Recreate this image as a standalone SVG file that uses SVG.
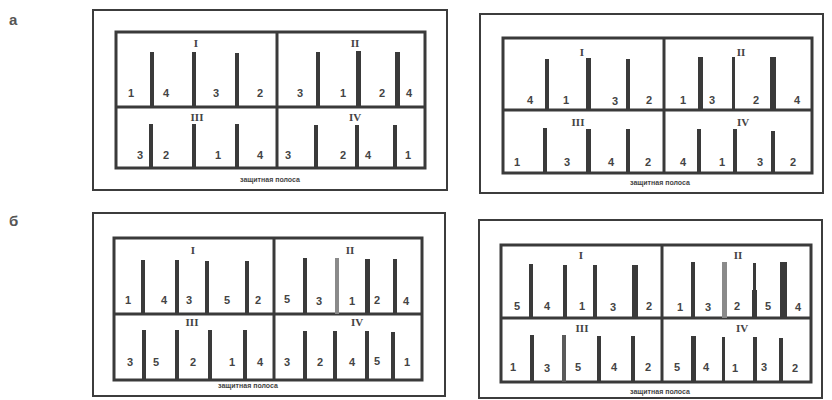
<svg xmlns="http://www.w3.org/2000/svg" width="832" height="400" viewBox="0 0 832 400">
<style>
.outer{fill:none;stroke:#3c3c3c;stroke-width:2}
.inner{fill:none;stroke:#3a3a3a;stroke-width:3}
.div{stroke:#3a3a3a;stroke-width:3}
.bar{fill:#3a3a3a}
.barg{fill:#8a8a8a}
.bard{fill:#5a5a5a}
.n{font-family:"Liberation Sans",Arial,sans-serif;font-size:11px;font-weight:bold;fill:#444;text-anchor:middle}
.r{font-family:"Liberation Serif",serif;font-size:11px;font-weight:bold;fill:#444;text-anchor:middle}
.cap{font-family:"Liberation Sans",Arial,sans-serif;font-size:7px;font-weight:bold;fill:#444;text-anchor:middle}
.lt{font-family:"Liberation Sans",Arial,sans-serif;font-size:15px;font-weight:bold;fill:#555}
</style>
<rect width="832" height="400" fill="#fff"/>
<text class="lt" x="9" y="25">а</text>
<text class="lt" x="9" y="226">б</text>

<g id="panel-a-left">
<rect class="outer" x="93" y="10" width="354" height="180"/>
<rect class="inner" x="116" y="32" width="309" height="136"/>
<line class="div" x1="116" y1="107" x2="425" y2="107"/>
<line class="div" x1="277" y1="32" x2="277" y2="168"/>
<rect class="bar" x="150" y="52" width="4" height="55"/>
<rect class="bar" x="192" y="52" width="4" height="55"/>
<rect class="bar" x="235" y="53" width="4" height="54"/>
<rect class="bar" x="316" y="52" width="4" height="55"/>
<rect class="bar" x="356" y="51" width="5" height="56"/>
<rect class="bar" x="395" y="52" width="5" height="55"/>
<rect class="bar" x="149" y="124" width="4" height="44"/>
<rect class="bar" x="192" y="124" width="4" height="44"/>
<rect class="bar" x="235" y="124" width="4" height="44"/>
<rect class="bar" x="314" y="125" width="4" height="43"/>
<rect class="bar" x="355" y="125" width="4" height="43"/>
<rect class="bar" x="393" y="125" width="4" height="43"/>
<text class="r" x="196" y="47">I</text>
<text class="r" x="355" y="47">II</text>
<text class="r" x="197" y="121">III</text>
<text class="r" x="355" y="121">IV</text>
<text class="n" x="131" y="97">1</text>
<text class="n" x="166" y="97">4</text>
<text class="n" x="216" y="97">3</text>
<text class="n" x="260" y="97">2</text>
<text class="n" x="300" y="97">3</text>
<text class="n" x="343" y="97">1</text>
<text class="n" x="382" y="97">2</text>
<text class="n" x="409" y="97">4</text>
<text class="n" x="140" y="159">3</text>
<text class="n" x="166" y="159">2</text>
<text class="n" x="218" y="159">1</text>
<text class="n" x="260" y="159">4</text>
<text class="n" x="288" y="159">3</text>
<text class="n" x="343" y="159">2</text>
<text class="n" x="368" y="159">4</text>
<text class="n" x="408" y="159">1</text>
<text class="cap" x="270" y="182">защитная полоса</text>
</g>

<g id="panel-a-right">
<rect class="outer" x="480" y="14" width="343" height="179"/>
<rect class="inner" x="503" y="38" width="309" height="135"/>
<line class="div" x1="503" y1="110" x2="812" y2="110"/>
<line class="div" x1="664" y1="38" x2="664" y2="173"/>
<rect class="bar" x="545" y="59" width="4" height="51"/>
<rect class="bar" x="586" y="58" width="5" height="52"/>
<rect class="bar" x="626" y="59" width="4" height="51"/>
<rect class="bar" x="698" y="57" width="5" height="53"/>
<rect class="bar" x="732" y="57" width="3" height="53"/>
<rect class="bar" x="770" y="57" width="6" height="53"/>
<rect class="bar" x="543" y="128" width="4" height="45"/>
<rect class="bar" x="586" y="129" width="5" height="44"/>
<rect class="bar" x="626" y="129" width="4" height="44"/>
<rect class="bar" x="697" y="129" width="4" height="44"/>
<rect class="bar" x="733" y="129" width="4" height="44"/>
<rect class="bar" x="771" y="131" width="4" height="42"/>
<text class="r" x="582" y="56">I</text>
<text class="r" x="741" y="56">II</text>
<text class="r" x="578" y="126">III</text>
<text class="r" x="743" y="126">IV</text>
<text class="n" x="530" y="104">4</text>
<text class="n" x="566" y="104">1</text>
<text class="n" x="615" y="105">3</text>
<text class="n" x="649" y="104">2</text>
<text class="n" x="683" y="104">1</text>
<text class="n" x="712" y="104">3</text>
<text class="n" x="756" y="104">2</text>
<text class="n" x="797" y="104">4</text>
<text class="n" x="517" y="166">1</text>
<text class="n" x="567" y="166">3</text>
<text class="n" x="611" y="166">4</text>
<text class="n" x="648" y="166">2</text>
<text class="n" x="683" y="166">4</text>
<text class="n" x="722" y="166">1</text>
<text class="n" x="760" y="166">3</text>
<text class="n" x="793" y="166">2</text>
<text class="cap" x="660" y="185">защитная полоса</text>
</g>

<g id="panel-b-left">
<rect class="outer" x="93" y="213" width="352" height="183"/>
<rect class="inner" x="114" y="238" width="308" height="142"/>
<line class="div" x1="114" y1="314" x2="422" y2="314"/>
<line class="div" x1="274" y1="238" x2="274" y2="380"/>
<rect class="bar" x="141" y="260" width="4" height="54"/>
<rect class="bar" x="175" y="260" width="4" height="54"/>
<rect class="bar" x="205" y="261" width="4" height="53"/>
<rect class="bar" x="245" y="261" width="4" height="53"/>
<rect class="bar" x="303" y="258" width="4" height="56"/>
<rect class="barg" x="335" y="258" width="4" height="56"/>
<rect class="bar" x="365" y="259" width="5" height="55"/>
<rect class="bar" x="393" y="259" width="4" height="55"/>
<rect class="bar" x="142" y="330" width="4" height="50"/>
<rect class="bar" x="175" y="330" width="4" height="50"/>
<rect class="bar" x="208" y="330" width="4" height="50"/>
<rect class="bar" x="243" y="330" width="4" height="50"/>
<rect class="bar" x="303" y="331" width="4" height="49"/>
<rect class="bar" x="333" y="331" width="4" height="49"/>
<rect class="bar" x="365" y="331" width="4" height="49"/>
<rect class="bar" x="391" y="332" width="4" height="48"/>
<text class="r" x="193" y="254">I</text>
<text class="r" x="350" y="254">II</text>
<text class="r" x="192" y="326">III</text>
<text class="r" x="357" y="326">IV</text>
<text class="n" x="128" y="304">1</text>
<text class="n" x="164" y="304">4</text>
<text class="n" x="189" y="304">3</text>
<text class="n" x="227" y="304">5</text>
<text class="n" x="258" y="304">2</text>
<text class="n" x="287" y="303">5</text>
<text class="n" x="319" y="305">3</text>
<text class="n" x="352" y="305">1</text>
<text class="n" x="377" y="304">2</text>
<text class="n" x="406" y="305">4</text>
<text class="n" x="130" y="366">3</text>
<text class="n" x="156" y="366">5</text>
<text class="n" x="193" y="366">2</text>
<text class="n" x="232" y="366">1</text>
<text class="n" x="260" y="366">4</text>
<text class="n" x="287" y="366">3</text>
<text class="n" x="320" y="366">2</text>
<text class="n" x="352" y="366">4</text>
<text class="n" x="377" y="365">5</text>
<text class="n" x="407" y="366">1</text>
<text class="cap" x="248" y="388">защитная полоса</text>
</g>

<g id="panel-b-right">
<rect class="outer" x="479" y="220" width="343" height="178"/>
<rect class="inner" x="501" y="245" width="310" height="137"/>
<line class="div" x1="501" y1="318" x2="811" y2="318"/>
<line class="div" x1="662" y1="245" x2="662" y2="382"/>
<rect class="bar" x="529" y="264" width="4" height="54"/>
<rect class="bar" x="563" y="265" width="4" height="53"/>
<rect class="bar" x="593" y="265" width="4" height="53"/>
<rect class="bar" x="632" y="265" width="6" height="53"/>
<rect class="bar" x="691" y="262" width="4" height="56"/>
<rect class="barg" x="722" y="262" width="5" height="56"/>
<rect class="bar" x="753" y="263" width="3" height="27"/>
<rect class="bar" x="752" y="290" width="5" height="28"/>
<rect class="bar" x="780" y="262" width="7" height="56"/>
<rect class="bar" x="530" y="335" width="4" height="47"/>
<rect class="bard" x="562" y="335" width="4" height="47"/>
<rect class="bar" x="597" y="336" width="4" height="46"/>
<rect class="bar" x="631" y="336" width="4" height="46"/>
<rect class="bar" x="691" y="336" width="5" height="46"/>
<rect class="bar" x="722" y="337" width="3" height="45"/>
<rect class="bar" x="753" y="337" width="4" height="45"/>
<rect class="bar" x="779" y="338" width="4" height="44"/>
<text class="r" x="581" y="259">I</text>
<text class="r" x="738" y="259">II</text>
<text class="r" x="582" y="332">III</text>
<text class="r" x="742" y="332">IV</text>
<text class="n" x="517" y="310">5</text>
<text class="n" x="547" y="310">4</text>
<text class="n" x="582" y="310">1</text>
<text class="n" x="613" y="311">3</text>
<text class="n" x="649" y="310">2</text>
<text class="n" x="680" y="311">1</text>
<text class="n" x="708" y="311">3</text>
<text class="n" x="737" y="310">2</text>
<text class="n" x="768" y="310">5</text>
<text class="n" x="798" y="311">4</text>
<text class="n" x="513" y="371">1</text>
<text class="n" x="547" y="372">3</text>
<text class="n" x="578" y="371">5</text>
<text class="n" x="614" y="371">4</text>
<text class="n" x="648" y="371">2</text>
<text class="n" x="677" y="371">5</text>
<text class="n" x="706" y="371">4</text>
<text class="n" x="735" y="372">1</text>
<text class="n" x="764" y="371">3</text>
<text class="n" x="795" y="372">2</text>
<text class="cap" x="660" y="394">защитная полоса</text>
</g>
</svg>
